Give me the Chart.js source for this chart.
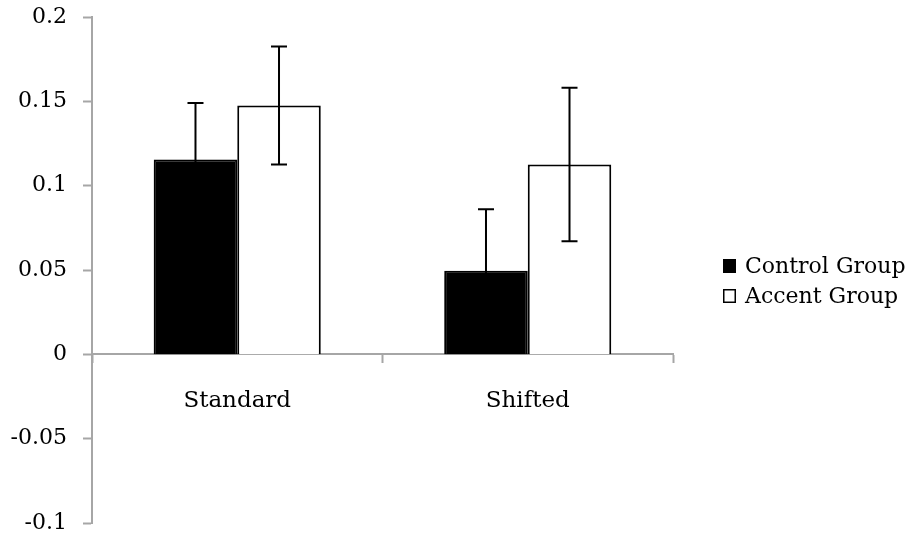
<!DOCTYPE html>
<html>
<head>
<meta charset="utf-8">
<script src="https://cdn.jsdelivr.net/npm/chart.js@4.4.1/dist/chart.umd.min.js"></script>
<style>
  html, body { margin: 0; padding: 0; background: #fff; }
  #wrap { width: 922px; height: 539px; }
</style>
</head>
<body>
<div id="wrap"><canvas id="chart" width="922" height="539"></canvas></div>
<script>
const CATEGORIES = ['Standard', 'Shifted'];
const CONTROL = [0.1155, 0.0495];
const ACCENT = [0.1475, 0.1125];
const CONTROL_ERR = [0.0335, 0.0365];
const ACCENT_ERR = [0.035, 0.0455];
const TICK_LABELS = ['-0.1', '-0.05', '0', '0.05', '0.1', '0.15', '0.2'];

const FONT = 'DejaVu Serif';
const AXIS_GREY = '#a6a6a6';

// error bars, drawn from the bar scales
const errorBars = {
  id: 'errorBars',
  afterDatasetsDraw(chart) {
    const ctx = chart.ctx;
    const y = chart.scales.y;
    const errs = [CONTROL_ERR, ACCENT_ERR];
    ctx.save();
    ctx.strokeStyle = '#000';
    ctx.lineWidth = 2;
    chart.data.datasets.forEach((ds, i) => {
      chart.getDatasetMeta(i).data.forEach((bar, j) => {
        const v = ds.data[j];
        const top = y.getPixelForValue(v + errs[i][j]);
        const bot = y.getPixelForValue(v - errs[i][j]);
        ctx.beginPath();
        ctx.moveTo(bar.x, top); ctx.lineTo(bar.x, bot);
        ctx.moveTo(bar.x - 8, top); ctx.lineTo(bar.x + 8, top);
        ctx.moveTo(bar.x - 8, bot); ctx.lineTo(bar.x + 8, bot);
        ctx.stroke();
      });
    });
    ctx.restore();
  }
};

// soft shadow under the black bars
const barShadow = {
  id: 'barShadow',
  beforeDatasetDraw(chart, args) {
    if (args.index !== 0) return;
    const ctx = chart.ctx;
    ctx.save();
    ctx.shadowColor = 'rgba(0,0,0,0.35)';
    ctx.shadowBlur = 7;
    ctx.shadowOffsetX = -2;
    ctx.shadowOffsetY = 3;
  },
  afterDatasetDraw(chart, args) {
    if (args.index !== 0) return;
    chart.ctx.restore();
  }
};

// legend on the right side
const sideLegend = {
  id: 'sideLegend',
  afterDraw(chart) {
    const ctx = chart.ctx;
    const area = chart.chartArea;
    const x = area.right + 50;
    const y0 = (area.top + area.bottom) / 2 - 4;
    ctx.save();
    ctx.font = '22px "' + FONT + '"';
    ctx.textBaseline = 'middle';
    ctx.textAlign = 'left';
    chart.data.datasets.forEach((ds, i) => {
      const y = y0 + i * 30;
      ctx.fillStyle = ds.backgroundColor;
      ctx.fillRect(x, y - 7, 13, 14);
      ctx.strokeStyle = '#000';
      ctx.lineWidth = 1.5;
      ctx.strokeRect(x + 0.75, y - 6.25, 11.5, 12.5);
      ctx.fillStyle = '#000';
      ctx.fillText(ds.label, x + 22, y + 1);
    });
    ctx.restore();
  }
};

new Chart(document.getElementById('chart').getContext('2d'), {
  type: 'bar',
  data: {
    labels: CATEGORIES,
    datasets: [{
      label: 'Control Group',
      data: CONTROL,
      backgroundColor: '#000',
      borderColor: '#000',
      borderWidth: 2
    }, {
      label: 'Accent Group',
      data: ACCENT,
      backgroundColor: '#fff',
      borderColor: '#000',
      borderWidth: 2
    }]
  },
  options: {
    responsive: false,
    animation: false,
    datasets: {
      bar: { categoryPercentage: 0.575, barPercentage: 1 }
    },
    layout: {
      padding: { left: 0, top: 17, right: 249, bottom: 16 }
    },
    plugins: {
      legend: { display: false },
      tooltip: { enabled: false },
      title: { display: false }
    },
    scales: {
      x: {
        position: { y: 0 },
        afterFit: (s) => { s.height = 0; },
        grid: {
          offset: true,
          drawOnChartArea: false,
          drawTicks: true,
          tickLength: 8,
          tickWidth: 2,
          tickColor: AXIS_GREY
        },
        border: { color: AXIS_GREY, width: 2 },
        ticks: {
          color: '#000',
          padding: 25,
          font: { family: FONT, size: 23 }
        }
      },
      y: {
        min: -0.1,
        max: 0.2,
        afterFit: (s) => {
          s.width = 92;
          s.paddingTop = 0;
          s.paddingBottom = 0;
        },
        grid: {
          drawOnChartArea: false,
          tickLength: 9,
          tickWidth: 2,
          tickColor: AXIS_GREY
        },
        border: { color: AXIS_GREY, width: 2 },
        ticks: {
          stepSize: 0.05,
          color: '#000',
          padding: 16,
          font: { family: FONT, size: 22 },
          callback: (v, i) => TICK_LABELS[i]
        }
      }
    }
  },
  plugins: [barShadow, errorBars, sideLegend]
});
</script>
</body>
</html>
